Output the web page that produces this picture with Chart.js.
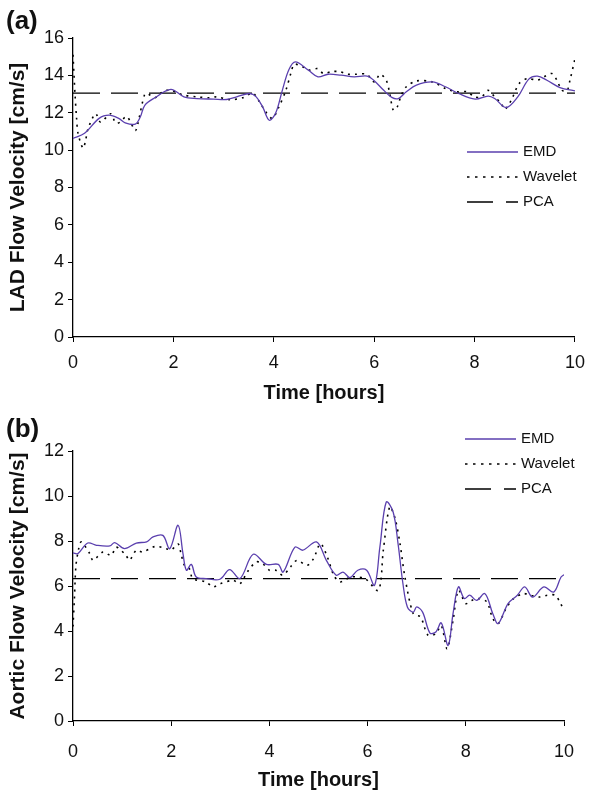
<!DOCTYPE html>
<html lang="en">
<head>
  <meta charset="UTF-8">
  <title>Flow Velocity</title>
  <script src="https://cdn.jsdelivr.net/npm/chart.js"></script>
  <style>
    body {
      margin: 0;
      background: #fff;
      font-family: "Liberation Sans", Arial, sans-serif;
    }
    .wrap { position: relative; width: 595px; height: 796px; }
    .panel { position: absolute; left: 0; width: 595px; }
    .tag {
      position: absolute;
      left: 6px;
      font-weight: bold;
      font-size: 26px;
      line-height: 1;
      color: #111;
    }
  </style>
</head>
<body>
  <div class="wrap">
    <div class="panel" style="top:0;height:405px"><canvas id="chartA"></canvas></div>
    <div class="panel" style="top:405px;height:391px"><canvas id="chartB"></canvas></div>
    <div class="tag" style="top:7px">(a)</div>
    <div class="tag" style="top:415px">(b)</div>
  </div>

  <script>
    // ---- (a) LAD ----
    const emdA_t = [0, 0.23, 0.52, 0.72, 0.91, 1.04, 1.24, 1.34, 1.43, 1.63, 1.95, 2.21, 2.47, 2.8, 3.06, 3.26, 3.52, 3.65, 3.78, 3.91, 4.04, 4.17, 4.3, 4.43, 4.69, 4.88, 5.08, 5.34, 5.6, 5.86, 5.99, 6.19, 6.35, 6.48, 6.64, 6.84, 7.16, 7.42, 7.68, 8.01, 8.27, 8.4, 8.63, 8.86, 9.08, 9.25, 9.44, 9.7, 10];
    const emdA_v = [10.63, 10.9, 11.7, 11.87, 11.7, 11.46, 11.39, 11.77, 12.4, 12.8, 13.25, 12.85, 12.76, 12.73, 12.71, 12.85, 13.03, 12.85, 12.3, 11.6, 12.0, 13.2, 14.3, 14.72, 14.28, 13.92, 14.06, 14.01, 13.92, 13.96, 13.74, 13.2, 12.82, 12.76, 13.12, 13.48, 13.65, 13.39, 13.03, 12.73, 12.89, 12.76, 12.28, 12.85, 13.8, 13.96, 13.74, 13.35, 13.17];

    const wavA_t = [0, 0.04, 0.07, 0.1, 0.2, 0.25, 0.3, 0.45, 0.55, 0.75, 0.85, 0.94, 1.07, 1.24, 1.29, 1.43, 1.5, 1.63, 1.8, 1.95, 2.2, 2.47, 2.73, 2.86, 3.12, 3.38, 3.58, 3.71, 3.84, 3.97, 4.1, 4.24, 4.35, 4.41, 4.58, 4.71, 4.87, 4.99, 5.15, 5.31, 5.47, 5.63, 5.85, 6.0, 6.12, 6.24, 6.31, 6.38, 6.46, 6.54, 6.64, 6.84, 7.16, 7.42, 7.65, 7.86, 7.99, 8.14, 8.27, 8.4, 8.53, 8.6, 8.73, 8.89, 9.06, 9.25, 9.38, 9.54, 9.64, 9.74, 9.84, 9.9, 10];
    const wavA_v = [15.1, 13.0, 11.75, 10.9, 10.1, 10.5, 11.15, 11.95, 11.5, 11.95, 11.45, 11.5, 11.8, 11.05, 11.4, 13.0, 13.0, 12.8, 13.15, 13.2, 12.95, 12.85, 12.8, 12.85, 12.7, 12.8, 13.05, 12.6, 12.05, 11.7, 12.3, 13.2, 14.2, 14.6, 14.45, 14.28, 14.36, 14.1, 14.2, 14.2, 14.06, 14.06, 14.06, 13.65, 14.06, 13.74, 13.03, 12.14, 12.32, 12.94, 13.39, 13.7, 13.65, 13.3, 13.12, 13.12, 12.85, 12.85, 13.2, 12.85, 12.5, 12.18, 12.67, 13.57, 13.83, 13.74, 13.92, 14.1, 13.74, 13.2, 13.17, 13.74, 14.9];

    const pcaA_t = [0, 10];
    const pcaA_v = [13.05, 13.05];

    // ---- (b) Aortic ----
    const emdB_t = [0, 0.1, 0.3, 0.48, 0.75, 0.85, 1.05, 1.29, 1.5, 1.63, 1.83, 1.97, 2.14, 2.24, 2.31, 2.41, 2.51, 2.71, 2.99, 3.19, 3.4, 3.67, 3.94, 4.18, 4.28, 4.52, 4.68, 4.96, 5.16, 5.36, 5.5, 5.64, 5.8, 5.98, 6.14, 6.25, 6.38, 6.52, 6.62, 6.72, 6.81, 6.93, 7.0, 7.12, 7.27, 7.39, 7.5, 7.64, 7.74, 7.85, 7.97, 8.08, 8.22, 8.39, 8.55, 8.66, 8.86, 9.05, 9.2, 9.36, 9.59, 9.79, 9.94, 10];
    const emdB_v = [7.47, 7.44, 7.91, 7.81, 7.78, 7.93, 7.66, 7.91, 7.96, 8.18, 8.25, 7.66, 8.7, 7.44, 6.7, 6.96, 6.4, 6.33, 6.3, 6.73, 6.33, 7.41, 6.96, 6.96, 6.62, 7.73, 7.59, 7.96, 7.14, 6.48, 6.62, 6.37, 6.7, 6.7, 6.03, 7.73, 9.73, 9.29, 7.88, 6.1, 5.07, 4.84, 5.07, 4.84, 3.91, 3.96, 4.36, 3.36, 4.77, 5.96, 5.44, 5.59, 5.36, 5.66, 4.77, 4.33, 5.22, 5.59, 5.96, 5.51, 5.96, 5.73, 6.4, 6.5];

    const wavB_t = [0, 0.03, 0.06, 0.12, 0.17, 0.34, 0.41, 0.61, 0.78, 0.88, 1.08, 1.15, 1.29, 1.42, 1.63, 1.73, 1.9, 2.0, 2.14, 2.2, 2.27, 2.37, 2.44, 2.71, 2.85, 3.0, 3.26, 3.4, 3.55, 3.73, 3.86, 4.0, 4.13, 4.27, 4.43, 4.56, 4.77, 4.9, 5.04, 5.18, 5.31, 5.44, 5.65, 5.78, 5.95, 6.22, 6.32, 6.45, 6.56, 6.66, 6.76, 6.93, 7.08, 7.23, 7.39, 7.5, 7.62, 7.74, 7.85, 8.0, 8.12, 8.27, 8.43, 8.55, 8.66, 8.82, 8.97, 9.17, 9.32, 9.51, 9.66, 9.82, 9.93, 10];
    const wavB_v = [4.2, 5.5, 6.9, 7.7, 7.96, 7.44, 7.14, 7.51, 7.36, 7.73, 7.36, 7.14, 7.59, 7.51, 7.73, 7.76, 7.66, 7.6, 7.87, 7.44, 6.92, 6.77, 6.33, 6.18, 5.96, 6.1, 6.25, 6.1, 6.62, 7.07, 7.0, 6.7, 6.7, 6.48, 6.85, 7.14, 6.92, 7.22, 7.88, 7.29, 6.48, 6.18, 6.4, 6.4, 6.33, 5.81, 7.59, 9.52, 9.0, 7.88, 6.4, 4.77, 4.62, 3.81, 3.88, 4.24, 3.21, 4.47, 5.81, 5.22, 5.36, 5.44, 5.29, 4.55, 4.33, 5.0, 5.44, 5.66, 5.59, 5.51, 5.59, 5.59, 5.22, 4.92];

    const pcaB_t = [0, 10];
    const pcaB_v = [6.33, 6.33];

    const xTicks = [0, 2, 4, 6, 8, 10];
    const labels = ["EMD", "Wavelet", "PCA"];

    const FONT = '"Liberation Sans", Arial, sans-serif';
    const PURPLE = "#5a3fae";

    function pts(t, v) {
      return t.map((x, i) => ({ x: x, y: v[i] }));
    }

    // legend drawn inside the plot, like the original
    const inlineLegend = {
      id: "inlineLegend",
      afterDatasetsDraw(chart, args, opts) {
        const ctx = chart.ctx;
        ctx.save();
        chart.data.datasets.forEach((ds, i) => {
          const y = opts.y + i * opts.gap;
          ctx.beginPath();
          ctx.strokeStyle = ds.borderColor;
          ctx.lineWidth = ds.borderWidth;
          ctx.setLineDash(ds.legendDash || []);
          ctx.moveTo(opts.x, y);
          ctx.lineTo(opts.x + opts.len, y);
          ctx.stroke();
          ctx.setLineDash([]);
          ctx.fillStyle = "#111";
          ctx.font = "15px " + FONT;
          ctx.textBaseline = "middle";
          ctx.textAlign = "left";
          ctx.fillText(ds.label, opts.x + opts.len + 5, y);
        });
        ctx.restore();
      }
    };

    function makePanel(id, cfg) {
      const ctx = document.getElementById(id).getContext("2d");
      new Chart(ctx, {
        type: "line",
        data: {
          datasets: [
            {
              label: labels[0],
              data: pts(cfg.emd[0], cfg.emd[1]),
              borderColor: PURPLE,
              borderWidth: 1.3,
              tension: 0.35,
              pointRadius: 0,
              legendDash: []
            },
            {
              label: labels[1],
              data: pts(cfg.wav[0], cfg.wav[1]),
              borderColor: "#000",
              borderWidth: 1.6,
              borderDash: [2, 5],
              tension: 0.3,
              pointRadius: 0,
              legendDash: [2.5, 5.5]
            },
            {
              label: labels[2],
              data: pts(cfg.pca[0], cfg.pca[1]),
              borderColor: "#000",
              borderWidth: 1.3,
              borderDash: [27, 11],
              pointRadius: 0,
              legendDash: [26, 13]
            }
          ]
        },
        options: {
          responsive: true,
          maintainAspectRatio: false,
          animation: false,
          events: [],
          layout: { padding: { top: cfg.padTop, right: cfg.padRight, left: 0, bottom: 0 } },
          plugins: {
            legend: { display: false },
            tooltip: { enabled: false },
            inlineLegend: cfg.legend
          },
          scales: {
            x: {
              type: "linear",
              min: 0,
              max: 10,
              afterBuildTicks: s => { s.ticks = xTicks.map(v => ({ value: v })); },
              afterFit: s => { s.height = cfg.xHeight; },
              border: { display: true, color: "#000", width: 1.3 },
              grid: { drawOnChartArea: false, drawTicks: true, tickLength: 5, color: "#000" },
              ticks: { color: "#111", font: { family: FONT, size: 18 }, padding: cfg.xTickPad, maxRotation: 0 },
              title: {
                display: true,
                text: "Time [hours]",
                color: "#111",
                font: { family: FONT, size: 20, weight: "bold" },
                padding: { top: 0, bottom: cfg.titlePad }
              }
            },
            y: {
              min: 0,
              max: cfg.yMax,
              ticks: { stepSize: 2, color: "#111", font: { family: FONT, size: 18 }, padding: 4 },
              afterFit: s => { s.width = 73; },
              border: { display: true, color: "#000", width: 1.3 },
              grid: { drawOnChartArea: false, drawTicks: true, tickLength: 5, color: "#000" },
              title: {
                display: true,
                text: cfg.yTitle,
                color: "#111",
                font: { family: FONT, size: 21, weight: "bold" },
                padding: { top: 6, bottom: 0 }
              }
            }
          }
        },
        plugins: [inlineLegend]
      });
    }

    makePanel("chartA", {
      emd: [emdA_t, emdA_v],
      wav: [wavA_t, wavA_v],
      pca: [pcaA_t, pcaA_v],
      yMax: 16,
      yTitle: "LAD Flow Velocity [cm/s]",
      padTop: 38,
      padRight: 10,
      xHeight: 68,
      xTickPad: 10,
      titlePad: 0,
      legend: { x: 467, y: 152, gap: 25, len: 51 }
    });

    makePanel("chartB", {
      emd: [emdB_t, emdB_v],
      wav: [wavB_t, wavB_v],
      pca: [pcaB_t, pcaB_v],
      yMax: 12,
      yTitle: "Aortic Flow Velocity [cm/s]",
      padTop: 46,
      padRight: 31,
      xHeight: 75,
      xTickPad: 15,
      titlePad: 4,
      legend: { x: 465, y: 34, gap: 25, len: 51 }
    });
  </script>
</body>
</html>
